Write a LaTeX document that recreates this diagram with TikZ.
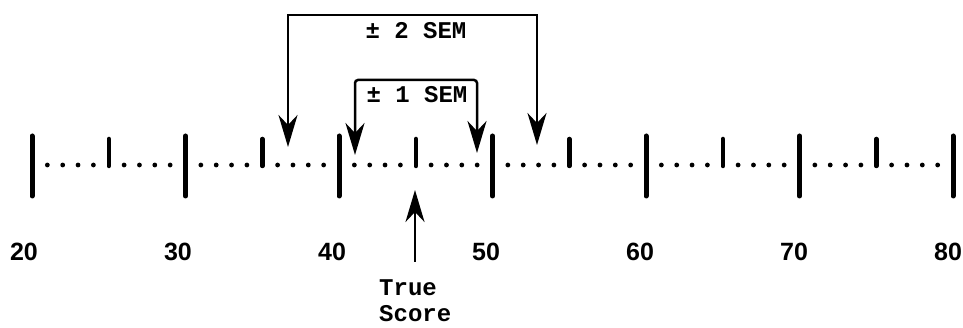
\documentclass[tikz,border=0pt]{standalone}
\usepackage{fontspec}
\setmainfont{Liberation Mono}
\newfontfamily\numfont{Liberation Sans}
\usetikzlibrary{arrows.meta}
\begin{document}
\begin{tikzpicture}[x=1pt,y=-1pt,
  major/.style={line width=5pt,line cap=round},
  minor/.style={line width=4.5pt,line cap=round},
  dotmark/.style={fill=black},
  link/.style={line width=2.5pt,line join=miter,-{Stealth[length=32pt,width=19pt,inset=10pt]}},
  bilink/.style={line width=2.5pt,{Stealth[length=32pt,width=19pt,inset=10pt]}-{Stealth[length=32pt,width=19pt,inset=10pt]}},
  lbl/.style={inner sep=0pt,font=\bfseries\fontsize{24}{29}\selectfont},
  num/.style={inner sep=0pt,font=\numfont\bfseries\fontsize{25}{30}\selectfont}]
\useasboundingbox (0,0) rectangle (963,328);
% axis
\foreach \v in {20,30,...,80} \draw[major] ({32+(\v-20)*15.35},136) -- ({32+(\v-20)*15.35},196);
\foreach \v in {25,35,...,75} \draw[minor] ({32+(\v-20)*15.35},139) -- ({32+(\v-20)*15.35},166);
\foreach \v in {21,...,79} {
  \pgfmathtruncatemacro\r{mod(\v,5)}
  \ifnum\r>0 \fill[dotmark] ({32+(\v-20)*15.35},165) circle (2.4pt);\fi
}
% numbers
\foreach \v in {20,30,...,80} \node[num] (n\v) at ({24+(\v-20)*15.4},252) {\v};
% brackets
\coordinate (top2) at (0,15);
\coordinate (top1) at (0,80);
\coordinate (oL) at (288,147);
\coordinate (oR) at (537,145);
\coordinate (iL) at (355,155);
\coordinate (iR) at (477,153);
\draw[bilink] (oL) -- (oL |- top2) -- (oR |- top2) -- (oR);
\draw[bilink,rounded corners=3pt] (iL) -- (iL |- top1) -- (iR |- top1) -- (iR);
\node[lbl] (sem2) at (416,31) {± 2 SEM};
\node[lbl] (sem1) at (417,95) {± 1 SEM};
% true score
\coordinate (tsTail) at (415,262);
\coordinate (tsTip) at (415,190);
\draw[link] (tsTail) -- (tsTip);
\node[lbl,anchor=base west] (true) at (379,296) {True};
\node[lbl,anchor=base west] (score) at (379,322) {Score};
\end{tikzpicture}
\end{document}
